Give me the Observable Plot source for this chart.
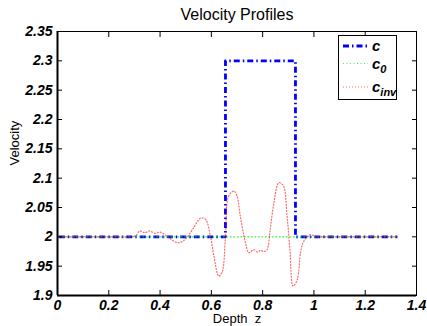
<!DOCTYPE html>
<html>
<head>
<meta charset="utf-8">
<script src="https://cdn.jsdelivr.net/npm/d3@7"></script>
<script src="https://cdn.jsdelivr.net/npm/@observablehq/plot@0.6"></script>
<style>
  html, body { margin: 0; padding: 0; background: #fff; }
  #wrap { position: relative; width: 427px; height: 326px; }
  svg text { white-space: pre; }
  #legend { position: absolute; left: 338px; top: 35px; }
</style>
</head>
<body>
<div id="wrap"></div>
<script>
// ---- data ----
const xTicks = [0, 0.2, 0.4, 0.6, 0.8, 1.0, 1.2, 1.4];
const yTicks = [1.9, 1.95, 2.0, 2.05, 2.1, 2.15, 2.2, 2.25, 2.3, 2.35];

// true model c (step)
const cZ = [0.005, 0.655, 0.655, 0.928, 0.928, 1.325];
const cV = [2.0, 2.0, 2.3, 2.3, 2.0, 2.0];

// initial model c0
const c0Z = [0.005, 1.325];
const c0V = [2.0, 2.0];

// inverted model c_inv
const cinvZ = [0.005, 0.10, 0.20, 0.28, 0.305, 0.32, 0.34, 0.36, 0.38, 0.40, 0.43, 0.467, 0.49, 0.506, 0.53, 0.558, 0.577, 0.597, 0.61, 0.629, 0.642, 0.655, 0.667, 0.688, 0.70, 0.713, 0.733, 0.746, 0.766, 0.78, 0.792, 0.805, 0.817, 0.83, 0.844, 0.863, 0.88, 0.895, 0.906, 0.919, 0.935, 0.948, 0.96, 0.987, 1.006, 1.03, 1.1, 1.2, 1.325];
const cinvV = [2.0, 2.0, 2.0, 2.0, 2.002, 2.01, 2.007, 2.01, 2.006, 2.008, 2.0, 1.99, 1.993, 2.0, 2.015, 2.032, 2.03, 2.0, 1.967, 1.933, 1.94, 2.0, 2.069, 2.078, 2.07, 2.035, 1.99, 1.973, 1.978, 1.974, 1.977, 1.975, 1.978, 2.015, 2.058, 2.092, 2.088, 2.037, 1.98, 1.916, 1.927, 1.974, 1.992, 2.004, 2.0, 2.0, 2.0, 2.0, 2.0];

const title = "Velocity Profiles";
const xLabel = "Depth  z";
const yLabel = "Velocity";

// ---- build tables ----
const toRows = (zs, vs) => zs.map((z, i) => ({z, v: vs[i]}));
const cRows = toRows(cZ, cV);
const c0Rows = toRows(c0Z, c0V);
const cinvRows = toRows(cinvZ, cinvV);

const fmt = d => String(+d.toFixed(2));
const font = "'Liberation Sans', Arial, Helvetica, sans-serif";

const chart = Plot.plot({
  width: 427,
  height: 326,
  marginLeft: 57,
  marginRight: 11,
  marginTop: 31,
  marginBottom: 31,
  style: {fontFamily: font, background: "#fff", color: "#000"},
  x: {domain: [0, 1.4], axis: null},
  y: {domain: [1.9, 2.35], axis: null},
  marks: [
    Plot.line(cRows, {x: "z", y: "v", stroke: "#0000ff", strokeWidth: 2.8, strokeDasharray: "6,3,1.5,3", strokeLinecap: "butt"}),
    Plot.line(c0Rows, {x: "z", y: "v", stroke: "#00ee00", strokeWidth: 1.2, strokeDasharray: "1,2.5", strokeOpacity: 0.75}),
    Plot.line(cinvRows, {x: "z", y: "v", stroke: "#ff0000", strokeWidth: 1.2, strokeDasharray: "1,2", strokeOpacity: 0.6, curve: "catmull-rom"}),
    Plot.frame({stroke: "#000", strokeWidth: 1}),
    Plot.ruleX([0], {stroke: "#000", strokeWidth: 2}),
    Plot.ruleY([1.9], {stroke: "#000", strokeWidth: 2}),
    // inward ticks
    Plot.axisX(xTicks, {anchor: "bottom", tickSize: -5, fill: "none", label: null}),
    Plot.axisX(xTicks, {anchor: "top", tickSize: -5, fill: "none", label: null}),
    Plot.axisY(yTicks, {anchor: "left", tickSize: -5, fill: "none", label: null}),
    Plot.axisY(yTicks, {anchor: "right", tickSize: -5, fill: "none", label: null}),
    // tick labels
    Plot.axisX(xTicks, {anchor: "bottom", tickSize: 0, tickPadding: 5, tickFormat: fmt, fontSize: 14, fontWeight: "bold", fontStyle: "italic", label: null, fill: "#000"}),
    Plot.axisY(yTicks, {anchor: "left", tickSize: 0, tickPadding: 5, tickFormat: fmt, fontSize: 14, fontWeight: "bold", fontStyle: "italic", label: null, fill: "#000"}),
    // title and axis labels
    Plot.text([title], {frameAnchor: "top", lineAnchor: "bottom", dy: -12, fontSize: 16, fill: "#000"}),
    Plot.text([xLabel], {frameAnchor: "bottom", lineAnchor: "bottom", dy: 27, fontSize: 13, fill: "#000"}),
    Plot.text([yLabel], {frameAnchor: "left", lineAnchor: "bottom", rotate: -90, dx: -39, dy: 2, fontSize: 13, fill: "#000"})
  ]
});

const wrap = document.getElementById("wrap");
wrap.appendChild(chart);

// ---- legend ----
const legendItems = [
  {name: "c", sub: "", stroke: "#0000ff", width: 2.8, dash: "6,3,1.5,3", opacity: 1},
  {name: "c", sub: "0", stroke: "#00ee00", width: 1.2, dash: "1,2.5", opacity: 0.75},
  {name: "c", sub: "inv", stroke: "#ff0000", width: 1.2, dash: "1,2", opacity: 0.6}
];
const lg = d3.create("svg").attr("id", "legend").attr("width", 60).attr("height", 66)
  .style("font-family", font);
lg.append("rect").attr("x", 0.5).attr("y", 0.5).attr("width", 58).attr("height", 64)
  .attr("fill", "#fff").attr("stroke", "#000");
const rowY = [11, 28.5, 52];
legendItems.forEach((d, i) => {
  const y = rowY[i];
  lg.append("line").attr("x1", 5).attr("x2", 30).attr("y1", y).attr("y2", y)
    .attr("stroke", d.stroke).attr("stroke-width", d.width)
    .attr("stroke-dasharray", d.dash).attr("stroke-opacity", d.opacity);
  const t = lg.append("text").attr("x", 34).attr("y", y + 5)
    .attr("font-size", 15).attr("font-weight", "bold").attr("font-style", "italic").attr("fill", "#000");
  t.append("tspan").text(d.name);
  if (d.sub) t.append("tspan").attr("dy", 4).attr("font-size", 11).text(d.sub);
});
wrap.appendChild(lg.node());
</script>
</body>
</html>
